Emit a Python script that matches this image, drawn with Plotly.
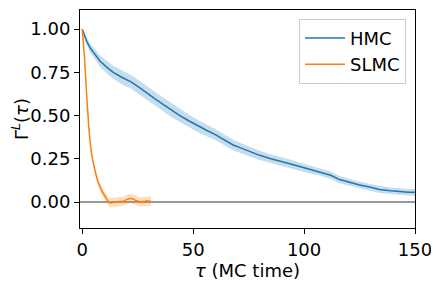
import plotly.graph_objects as go

hmc_tau = [0, 1, 2, 3.6, 6, 8, 11, 14, 18, 22, 26, 29, 33, 37, 41, 44, 48, 52, 56, 60,
           64, 68, 72, 76, 80, 85, 90, 94, 98, 102, 107, 112, 116, 120, 125, 130, 134,
           139, 143, 147, 150]
hmc_val = [1.0, 0.96, 0.93, 0.89, 0.85, 0.815, 0.78, 0.75, 0.72, 0.695, 0.66, 0.63, 0.595,
           0.56, 0.525, 0.50, 0.47, 0.44, 0.415, 0.39, 0.36, 0.33, 0.31, 0.29, 0.27, 0.25,
           0.235, 0.22, 0.205, 0.19, 0.175, 0.155, 0.13, 0.115, 0.098, 0.085, 0.073, 0.065,
           0.06, 0.057, 0.056]
hmc_err = [0.0, 0.015, 0.02, 0.025, 0.03, 0.033, 0.036, 0.038, 0.04, 0.04, 0.04, 0.04,
           0.04, 0.04, 0.04, 0.038, 0.036, 0.035, 0.034, 0.032, 0.031, 0.03, 0.029, 0.028,
           0.027, 0.026, 0.025, 0.024, 0.024, 0.023, 0.022, 0.022, 0.021, 0.021, 0.02,
           0.02, 0.02, 0.019, 0.019, 0.019, 0.019]

slmc_tau = list(range(0, 32))
slmc_val = [1.0, 0.84, 0.62, 0.43, 0.30, 0.225, 0.17, 0.12, 0.088, 0.06, 0.04, 0.018,
            0.0, -0.005, 0.0, -0.003, 0.0, 0.004, 0.002, 0.008, 0.014, 0.019, 0.021, 0.017,
            0.01, 0.006, 0.0, 0.004, 0.002, 0.007, 0.005, 0.006]
slmc_err = [0.0, 0.008, 0.01, 0.012, 0.014, 0.016, 0.018, 0.02, 0.022, 0.024, 0.026, 0.027,
            0.027, 0.027, 0.027, 0.027, 0.027, 0.027, 0.027, 0.027, 0.027, 0.027, 0.027,
            0.027, 0.027, 0.027, 0.027, 0.027, 0.027, 0.027, 0.027, 0.027]

x_ticks = [0, 50, 100, 150]
y_ticks = [0.0, 0.25, 0.5, 0.75, 1.0]
y_tick_labels = ["0.00", "0.25", "0.50", "0.75", "1.00"]

fig = go.Figure()

def band(x, y, e, fill, name):
    up = [a + b for a, b in zip(y, e)]
    lo = [a - b for a, b in zip(y, e)]
    fig.add_trace(go.Scatter(x=x + x[::-1], y=up + lo[::-1], fill="toself",
                             fillcolor=fill, line=dict(width=0), mode="lines",
                             hoverinfo="skip", showlegend=False, name=name + " band"))

band(hmc_tau, hmc_val, hmc_err, "rgba(31,119,180,0.25)", "HMC")
band(slmc_tau, slmc_val, slmc_err, "rgba(255,127,14,0.25)", "SLMC")

fig.add_trace(go.Scatter(x=hmc_tau, y=hmc_val, mode="lines", name="HMC",
                         line=dict(color="#1f77b4", width=1.5)))
fig.add_trace(go.Scatter(x=slmc_tau, y=slmc_val, mode="lines", name="SLMC",
                         line=dict(color="#ff7f0e", width=1.5, shape="spline", smoothing=0.6)))

fig.add_hline(y=0, line=dict(color="#999999", width=2), layer="below")

font = dict(family="DejaVu Sans", size=18, color="black")
# page body has an 8px margin, so the figure is drawn 8px in from the window corner
fig.update_layout(
    width=431, height=276,
    margin=dict(l=72, r=24, t=2, b=56),
    paper_bgcolor="white", plot_bgcolor="white",
    font=font,
    legend=dict(x=0.973, y=0.96, xanchor="right", yanchor="top",
                bordercolor="#cccccc", borderwidth=1, bgcolor="rgba(255,255,255,0.8)",
                font=dict(family="DejaVu Sans", size=18), tracegroupgap=0,
                itemwidth=40),
    xaxis=dict(range=[-1, 150], tickvals=x_ticks, showgrid=False, zeroline=False,
               showline=True, linecolor="black", linewidth=1, mirror=True,
               ticks="outside", ticklen=5, tickcolor="black", automargin=False,
               tickfont=dict(size=18),
               title=dict(text="<i>τ</i> (MC time)", standoff=2, font=dict(size=18))),
    yaxis=dict(range=[-0.15, 1.11], tickvals=y_ticks, ticktext=y_tick_labels,
               showgrid=False, zeroline=False,
               showline=True, linecolor="black", linewidth=1, mirror=True,
               ticks="outside", ticklen=5, tickcolor="black", automargin=False,
               tickfont=dict(size=18),
               title=dict(text="Γ<sup><i>L</i></sup>(<i>τ</i>)", standoff=8, font=dict(size=18))),
)

fig.write_html("out.html")
